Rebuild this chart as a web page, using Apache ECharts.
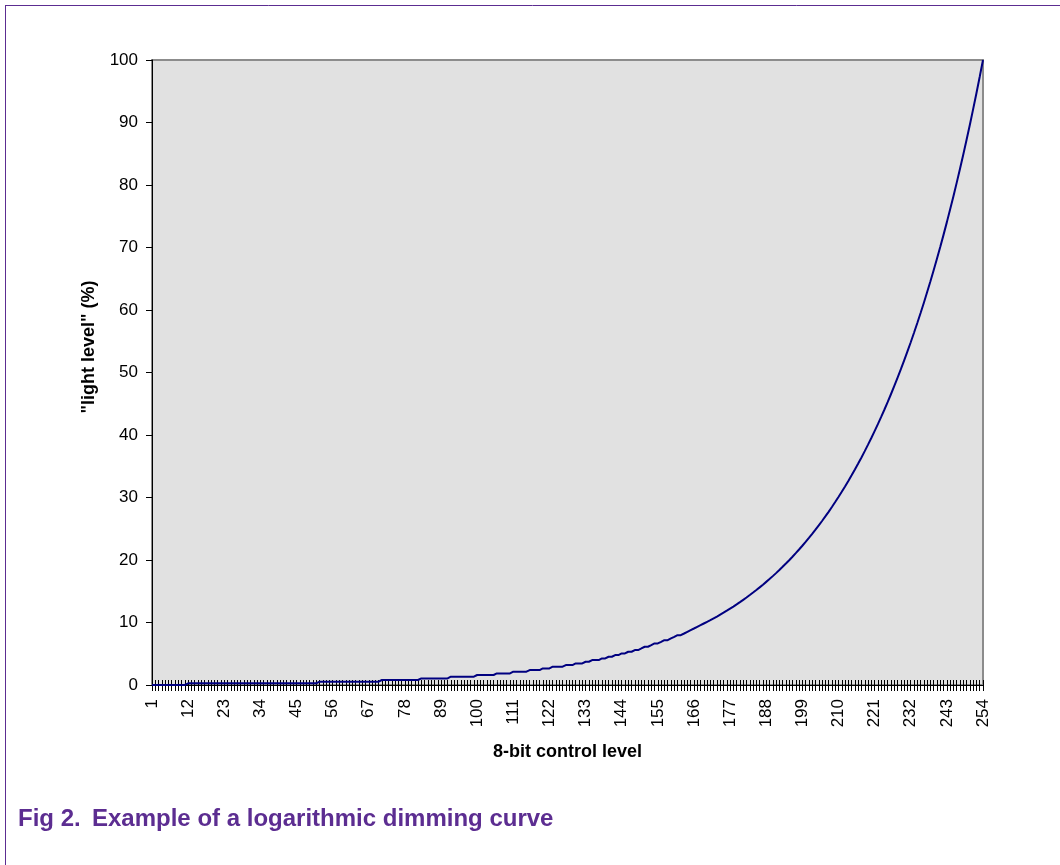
<!DOCTYPE html>
<html>
<head>
<meta charset="utf-8">
<script src="https://cdn.jsdelivr.net/npm/echarts@6/dist/echarts.min.js"></script>
<style>
html,body{margin:0;padding:0;background:#fff;}
#chart{width:1060px;height:865px;}
</style>
</head>
<body>
<div id="chart"></div>
<script>
// x categories: 8-bit control level 1..254
const firstLevel = 1;
const lastLevel = 254;
const categories = [];
for (let n = firstLevel; n <= lastLevel; n++) categories.push(String(n));

// "light level" (%), one value per control level
const lightLevel = [
  0,0,0,0,0,0,0,0,0,0,                                   // 1-10
  0,0.27,0.27,0.27,0.27,0.27,0.27,0.27,0.27,0.27,        // 11-20
  0.27,0.27,0.27,0.27,0.27,0.27,0.27,0.27,0.27,0.27,     // 21-30
  0.27,0.27,0.27,0.27,0.27,0.27,0.27,0.27,0.27,0.27,     // 31-40
  0.27,0.27,0.27,0.27,0.27,0.27,0.27,0.27,0.27,0.27,     // 41-50
  0.27,0.53,0.53,0.53,0.53,0.53,0.53,0.53,0.53,0.53,     // 51-60
  0.53,0.53,0.53,0.53,0.53,0.53,0.53,0.53,0.53,0.53,     // 61-70
  0.80,0.80,0.80,0.80,0.80,0.80,0.80,0.80,0.80,0.80,     // 71-80
  0.80,0.80,1.06,1.06,1.06,1.06,1.06,1.06,1.06,1.06,     // 81-90
  1.06,1.33,1.33,1.33,1.33,1.33,1.33,1.33,1.33,1.60,     // 91-100
  1.60,1.60,1.60,1.60,1.60,1.86,1.86,1.86,1.86,1.86,     // 101-110
  2.13,2.13,2.13,2.13,2.13,2.39,2.39,2.39,2.39,2.66,     // 111-120
  2.66,2.66,2.93,2.93,2.93,2.93,3.19,3.19,3.19,3.46,     // 121-130
  3.46,3.46,3.72,3.72,3.99,3.99,3.99,4.26,4.26,4.52,     // 131-140
  4.52,4.79,4.79,5.05,5.05,5.32,5.32,5.59,5.59,5.85,     // 141-150
  6.12,6.12,6.38,6.65,6.65,6.91,7.18,7.18,7.45,7.71,     // 151-160
  7.98,7.98,8.24,8.51,8.78,9.04,9.31,9.57,9.84,10.11,    // 161-170
  10.37,10.66,10.95,11.26,11.57,11.89,12.22,12.55,12.90,13.26, // 171-180
  13.63,14.00,14.39,14.79,15.20,15.62,16.05,16.50,16.95,17.42, // 181-190
  17.90,18.40,18.91,19.43,19.97,20.52,21.09,21.68,22.28,22.89, // 191-200
  23.53,24.18,24.85,25.53,26.24,26.97,27.71,28.48,29.27,30.08, // 201-210
  30.91,31.77,32.65,33.55,34.48,35.43,36.41,37.42,38.46,39.52, // 211-220
  40.62,41.74,42.90,44.08,45.30,46.56,47.85,49.17,50.53,51.93, // 221-230
  53.37,54.84,56.36,57.92,59.53,61.17,62.87,64.61,66.39,68.23, // 231-240
  70.12,72.06,74.06,76.11,78.21,80.38,82.60,84.89,87.24,89.65, // 241-250
  92.14,94.69,97.31,100                                        // 251-254
];

// y axis ticks
const yMin = 0, yMax = 100, yStep = 10;

const xTitle = '8-bit control level';
const yTitle = '"light level" (%)';
const captionNo = 'Fig 2.';
const captionText = 'Example of a logarithmic dimming curve';

const FONT = '"Liberation Sans", Arial, sans-serif';
const PURPLE = '#5C2D91';

const chart = echarts.init(document.getElementById('chart'), null, {renderer: 'canvas'});
chart.setOption({
  animation: false,
  backgroundColor: '#ffffff',
  textStyle: {fontFamily: FONT},
  grid: {
    left: 152, right: 77, top: 60, bottom: 180,
    show: true, backgroundColor: '#E1E1E1',
    borderColor: '#8C8C8C', borderWidth: 2
  },
  xAxis: [{
    type: 'category',
    data: categories,
    boundaryGap: false,
    position: 'bottom',
    axisLine: {lineStyle: {color: '#000', width: 1}},
    axisTick: {show: true, interval: 0, length: 6, lineStyle: {color: '#000', width: 1}},
    axisLabel: {
      interval: 10, rotate: 90, margin: 14,
      color: '#000', fontSize: 17, fontFamily: FONT
    },
    splitLine: {show: false},
    name: xTitle, nameLocation: 'middle', nameGap: 58,
    nameTextStyle: {color: '#000', fontSize: 18, fontWeight: 'bold', fontFamily: FONT}
  }, {
    type: 'category',
    data: categories,
    boundaryGap: false,
    position: 'bottom',
    axisLine: {show: false},
    axisTick: {show: true, inside: true, interval: 0, length: 5, lineStyle: {color: '#000', width: 1}},
    axisLabel: {show: false},
    splitLine: {show: false}
  }],
  yAxis: {
    type: 'value',
    min: yMin, max: yMax, interval: yStep,
    axisLine: {show: true, lineStyle: {color: '#000', width: 1}},
    axisTick: {show: true, length: 6, lineStyle: {color: '#000'}},
    axisLabel: {color: '#000', fontSize: 17, margin: 14, fontFamily: FONT},
    splitLine: {show: false}
  },
  series: [{
    type: 'line',
    data: lightLevel,
    xAxisIndex: 0,
    showSymbol: false,
    smooth: false,
    lineStyle: {color: '#000080', width: 2},
    z: 5
  }],
  graphic: [
    {type: 'line', shape: {x1: 5, y1: 5.5, x2: 1060, y2: 5.5}, style: {stroke: PURPLE, lineWidth: 1}},
    {type: 'line', shape: {x1: 5.5, y1: 5, x2: 5.5, y2: 865}, style: {stroke: PURPLE, lineWidth: 1}},
    {type: 'text', x: 89, y: 347, rotation: Math.PI / 2,
     style: {text: yTitle, fill: '#000', font: 'bold 18px ' + FONT, align: 'center', verticalAlign: 'middle'}},
    {type: 'text', left: 18, top: 807, style: {text: captionNo, fill: PURPLE, font: 'bold 24px ' + FONT}},
    {type: 'text', left: 92, top: 807, style: {text: captionText, fill: PURPLE, font: 'bold 24px ' + FONT}}
  ]
});
</script>
</body>
</html>
